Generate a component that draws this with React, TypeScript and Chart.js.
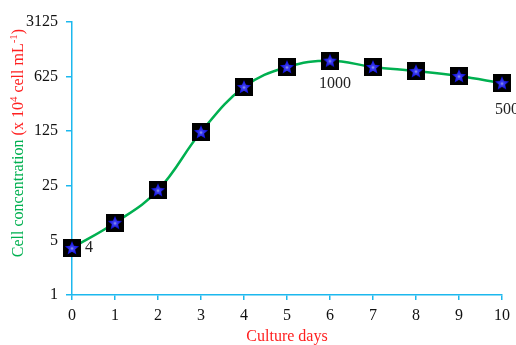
import React, { useEffect, useRef } from "react";
import { Chart, registerables } from "chart.js";

Chart.register(...registerables);

const days = [0, 1, 2, 3, 4, 5, 6, 7, 8, 9, 10];
const cellConc = [4, 8.4, 22, 122, 460, 830, 1000, 830, 735, 635, 515];
const yTickValues = [1, 5, 25, 125, 625, 3125];
const labelIndices = [0, 6, 10];
const labelTexts = ["4", "1000", "500"];

const FONT = "'Liberation Serif', 'Times New Roman', serif";
const AXIS_COLOR = "#1cb8ee";

function makeMarker(): HTMLCanvasElement {
  const s = 18;
  const c = document.createElement("canvas");
  c.width = s;
  c.height = s;
  const g = c.getContext("2d")!;
  g.fillStyle = "#000";
  g.fillRect(0, 0, s, s);
  const cx = s / 2, cy = s / 2 + 0.5;
  const outer = 7.5, inner = 3.3;
  g.beginPath();
  for (let i = 0; i < 10; i++) {
    const r = i % 2 === 0 ? outer : inner;
    const a = -Math.PI / 2 + (i * Math.PI) / 5;
    const x = cx + r * Math.cos(a);
    const y = cy + r * Math.sin(a);
    if (i === 0) g.moveTo(x, y);
    else g.lineTo(x, y);
  }
  g.closePath();
  const grad = g.createRadialGradient(cx, cy, 0, cx, cy, outer);
  grad.addColorStop(0, "#9aa6e8");
  grad.addColorStop(0.25, "#3b3bf0");
  grad.addColorStop(1, "#0000d8");
  g.fillStyle = grad;
  g.fill();
  return c;
}

export default function App() {
  const ref = useRef<HTMLCanvasElement | null>(null);

  useEffect(() => {
    const canvas = ref.current;
    if (!canvas) return;
    const marker = makeMarker();

    const labelOffsets: Record<string, [number, number, CanvasTextAlign]> = {
      "0": [13, 0, "left"],
      "6": [5, 23, "center"],
      "10": [-7, 27, "left"],
    };

    const annotPlugin = {
      id: "annot",
      afterDatasetsDraw(chart: any) {
        const ctx = chart.ctx;
        const meta = chart.getDatasetMeta(0);
        ctx.save();
        ctx.font = `16px ${FONT}`;
        ctx.fillStyle = "#222";
        ctx.textBaseline = "middle";
        labelIndices.forEach((idx, k) => {
          const el = meta.data[idx];
          const off = labelOffsets[String(idx)] || [0, 20, "center"];
          ctx.textAlign = off[2];
          ctx.fillText(labelTexts[k], el.x + off[0], el.y + off[1]);
        });
        ctx.restore();
      },
      afterDraw(chart: any) {
        const ctx = chart.ctx;
        const area = chart.chartArea;
        ctx.save();
        ctx.font = `16px ${FONT}`;
        ctx.fillStyle = "#ff2020";
        ctx.textAlign = "center";
        ctx.textBaseline = "middle";
        ctx.fillText("Culture days", (area.left + area.right) / 2, 337);
        ctx.translate(19, 0);
        ctx.rotate(-Math.PI / 2);
        const big = `16px ${FONT}`;
        const small = `11px ${FONT}`;
        const parts: [string, string, string, number][] = [
          ["Cell concentration ", "#00b050", big, 0],
          ["(x 10", "#ff2020", big, 0],
          ["4", "#ff2020", small, -5],
          [" cell mL", "#ff2020", big, 0],
          ["-1", "#ff2020", small, -5],
          [")", "#ff2020", big, 0],
        ];
        let total = 0;
        parts.forEach((p) => {
          ctx.font = p[2];
          total += ctx.measureText(p[0]).width;
        });
        const centerY = 143;
        let x = -centerY - total / 2;
        ctx.textAlign = "left";
        parts.forEach((p) => {
          ctx.font = p[2];
          ctx.fillStyle = p[1];
          ctx.fillText(p[0], x, p[3]);
          x += ctx.measureText(p[0]).width;
        });
        ctx.restore();
      },
    };

    const chart = new Chart(canvas, {
      type: "line",
      data: {
        datasets: [
          {
            data: days.map((d, i) => ({ x: d, y: cellConc[i] })),
            borderColor: "#00b050",
            borderWidth: 2.5,
            tension: 0.4,
            pointStyle: marker as any,
            pointRadius: 9,
            fill: false,
            clip: false as any,
          },
        ],
      },
      options: {
        animation: false,
        responsive: false,
        maintainAspectRatio: false,
        layout: { padding: { top: 22, right: 13, left: 0, bottom: 0 } },
        plugins: { legend: { display: false }, tooltip: { enabled: false } },
        scales: {
          x: {
            type: "linear",
            min: 0,
            max: 10,
            border: { color: AXIS_COLOR, width: 1.5 },
            grid: {
              drawOnChartArea: false,
              drawTicks: true,
              tickLength: 5,
              color: AXIS_COLOR,
              lineWidth: 1.5,
            },
            ticks: {
              stepSize: 1,
              color: "#111",
              font: { family: FONT, size: 16 },
              padding: 6,
              maxRotation: 0,
            },
            afterFit(scale: any) {
              scale.height = 50;
            },
          },
          y: {
            type: "logarithmic",
            min: 1,
            max: 3125,
            border: { color: AXIS_COLOR, width: 1.5 },
            grid: {
              drawOnChartArea: false,
              drawTicks: true,
              tickLength: 6,
              color: AXIS_COLOR,
              lineWidth: 1.5,
            },
            ticks: {
              color: "#111",
              font: { family: FONT, size: 16 },
              padding: 8,
              callback: (v: any) => String(v),
            },
            afterBuildTicks(scale: any) {
              scale.ticks = yTickValues.map((v) => ({ value: v }));
            },
            afterFit(scale: any) {
              scale.width = 72;
            },
          },
        },
      },
      plugins: [annotPlugin],
    });

    return () => chart.destroy();
  }, []);

  return (
    <div style={{ position: "fixed", left: 0, top: 0, width: 516, height: 345, background: "#fff" }}>
      <canvas ref={ref} width={516} height={345} style={{ display: "block" }} />
    </div>
  );
}
